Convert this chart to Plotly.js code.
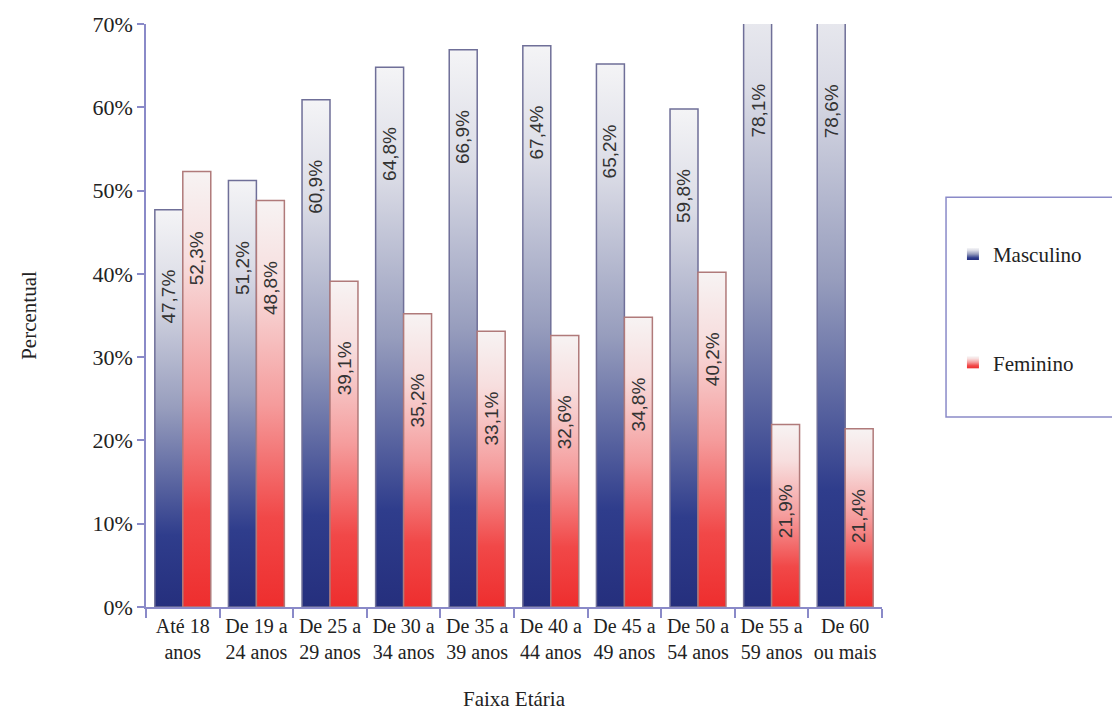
<!DOCTYPE html>
<html>
<head>
<meta charset="utf-8">
<script src="https://cdn.plot.ly/plotly-3.0.1.min.js"></script>
<style>
html,body{margin:0;padding:0;background:#ffffff;}
#chart{width:1112px;height:720px;}
</style>
</head>
<body>
<div id="chart"></div>
<script>
// ---- data ----
const categories = ['Até 18<br>anos','De 19 a<br>24 anos','De 25 a<br>29 anos','De 30 a<br>34 anos','De 35 a<br>39 anos','De 40 a<br>44 anos','De 45 a<br>49 anos','De 50 a<br>54 anos','De 55 a<br>59 anos','De 60<br>ou mais'];
const masculino = [47.7, 51.2, 60.9, 64.8, 66.9, 67.4, 65.2, 59.8, 78.1, 78.6];
const feminino  = [52.3, 48.8, 39.1, 35.2, 33.1, 32.6, 34.8, 40.2, 21.9, 21.4];
const seriesNames = ['Masculino', 'Feminino'];
const yTickVals = [0, 10, 20, 30, 40, 50, 60, 70];
const yTickText = ['0%', '10%', '20%', '30%', '40%', '50%', '60%', '70%'];

// ---- style ----
const W = 1112, H = 720;
const M = {l: 146, r: 230, t: 24, b: 113};
const Y_MAX = 70;
const BARGAP = 0.24;
const AXIS_COLOR = '#8a8ac8';
const SERIF = 'Liberation Serif';
const SANS = 'Liberation Sans';
const TEXT_COLOR = '#222222';
const LABEL_GAP = 58;
const plotW = W - M.l - M.r;
const halfBar = plotW / categories.length * (1 - BARGAP) / 4;

function fmt(v) { return v.toFixed(1).replace('.', ',') + '%'; }

// gradient defs
const gradDefs = [
  {id: 'gradMasc', stops: [[0, '#252f7d'], [0.18, '#2f3d8c'], [0.5, '#979dbd'], [0.8, '#dbdce6'], [1, '#f4f4f6']]},
  {id: 'gradFem',  stops: [[0, '#ee2e2e'], [0.22, '#f14848'], [0.5, '#f59c9c'], [0.8, '#f7dede'], [1, '#f7f3f3']]}
];
(function makeDefs() {
  const ns = 'http://www.w3.org/2000/svg';
  const svg = document.createElementNS(ns, 'svg');
  svg.setAttribute('width', '0'); svg.setAttribute('height', '0');
  svg.style.position = 'absolute';
  const defs = document.createElementNS(ns, 'defs');
  gradDefs.forEach(g => {
    const lg = document.createElementNS(ns, 'linearGradient');
    lg.setAttribute('id', g.id);
    lg.setAttribute('x1', '0'); lg.setAttribute('y1', '1');
    lg.setAttribute('x2', '0'); lg.setAttribute('y2', '0');
    g.stops.forEach(s => {
      const st = document.createElementNS(ns, 'stop');
      st.setAttribute('offset', s[0]);
      st.setAttribute('stop-color', s[1]);
      lg.appendChild(st);
    });
    defs.appendChild(lg);
  });
  svg.appendChild(defs);
  document.body.appendChild(svg);
})();

const seriesValues = [masculino, feminino];
const baseColors = ['#3a4590', '#ef4040'];
const lineColors = ['#6f6f98', '#b07a7a'];

const traces = seriesValues.map((vals, s) => ({
  type: 'bar',
  name: seriesNames[s],
  x: categories,
  y: vals,
  legendgroup: 'g' + s,
  marker: {color: baseColors[s], line: {color: lineColors[s], width: 1.5}},
  hoverinfo: 'x+y+name'
}));

const annotations = [];
seriesValues.forEach((vals, s) => {
  vals.forEach((v, i) => {
    annotations.push({
      x: categories[i], y: Math.min(v, Y_MAX), xref: 'x', yref: 'y',
      xshift: s === 0 ? -halfBar : halfBar, yshift: -LABEL_GAP,
      yanchor: 'top', xanchor: 'center',
      text: fmt(v), textangle: -90, showarrow: false,
      font: {family: SANS, size: 19, color: '#333333'}
    });
  });
});

const layout = {
  width: W, height: H,
  margin: {l: M.l, r: M.r, t: M.t, b: M.b, autoexpand: false},
  paper_bgcolor: '#ffffff', plot_bgcolor: '#ffffff',
  barmode: 'group', bargap: BARGAP, bargroupgap: 0,
  showlegend: true,
  legend: {
    x: 1.0964, xanchor: 'left', y: 0.64, yanchor: 'top',
    traceorder: 'grouped', tracegroupgap: 78,
    bgcolor: 'rgba(0,0,0,0)', borderwidth: 0,
    font: {family: SERIF, size: 21, color: TEXT_COLOR}
  },
  xaxis: {
    type: 'category', showline: true, linecolor: AXIS_COLOR, linewidth: 1.5,
    ticks: 'outside', tickson: 'boundaries', ticklen: 9, tickcolor: AXIS_COLOR, tickwidth: 1.5,
    showgrid: false, zeroline: false,
    tickfont: {family: SERIF, size: 20, color: TEXT_COLOR},
    title: {text: 'Faixa Etária', font: {family: SERIF, size: 21, color: TEXT_COLOR}, standoff: 30},
    fixedrange: true
  },
  yaxis: {
    range: [0, Y_MAX], tickvals: yTickVals, ticktext: yTickText,
    showline: true, linecolor: AXIS_COLOR, linewidth: 1.5,
    ticks: 'outside', ticklen: 7, tickcolor: AXIS_COLOR, tickwidth: 1.5,
    showgrid: false, zeroline: false,
    tickfont: {family: SERIF, size: 22, color: TEXT_COLOR},
    title: {text: 'Percentual', font: {family: SERIF, size: 21, color: TEXT_COLOR}, standoff: 50},
    fixedrange: true
  },
  shapes: [{
    type: 'rect', xref: 'paper', yref: 'paper',
    x0: 1.087, x1: 1.6, y0: 0.326, y1: 0.703,
    line: {color: AXIS_COLOR, width: 1.5}, fillcolor: 'rgba(0,0,0,0)', layer: 'below'
  }],
  annotations: annotations
};

function applyGradients() {
  const gd = document.getElementById('chart');
  const barTraces = gd.querySelectorAll('.barlayer .trace');
  barTraces.forEach((tr, s) => {
    tr.querySelectorAll('.point path').forEach(p => {
      p.style.fill = 'url(#' + gradDefs[s].id + ')';
      p.style.fillOpacity = 1;
    });
  });
  const legTraces = gd.querySelectorAll('.legend .traces');
  legTraces.forEach((tr, s) => {
    tr.querySelectorAll('.legendpoints path').forEach(p => {
      p.style.fill = 'url(#' + gradDefs[s].id + ')';
      p.style.stroke = 'none';
    });
  });
}

Plotly.newPlot('chart', traces, layout, {displayModeBar: false, responsive: false}).then(gd => {
  applyGradients();
  gd.on('plotly_afterplot', applyGradients);
});
</script>
</body>
</html>
